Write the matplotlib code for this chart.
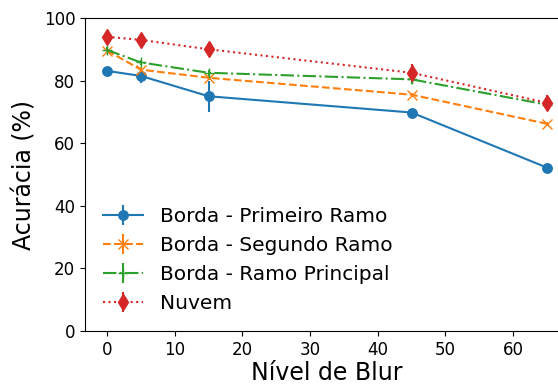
import matplotlib
matplotlib.use("Agg")
import matplotlib.pyplot as plt

blur = [0, 5, 15, 45, 65]
labels = ["Borda - Primeiro Ramo", "Borda - Segundo Ramo", "Borda - Ramo Principal", "Nuvem"]
primeiro = [83.1, 81.5, 75.0, 69.8, 52.2]
primeiro_err = [0.6, 2.2, 5.0, 0.6, 0.8]
segundo = [89.6, 83.5, 80.9, 75.5, 66.2]
segundo_err = [0.6, 0.8, 0.8, 0.6, 0.6]
principal = [89.8, 85.8, 82.5, 80.4, 72.3]
principal_err = [0.8, 0.8, 1.0, 1.5, 0.6]
nuvem = [94.0, 93.0, 90.0, 82.5, 72.9]
nuvem_err = [2.0, 1.8, 1.5, 2.8, 2.4]

fig = plt.figure(figsize=(5.58, 3.85), dpi=100)
ax = fig.add_axes([85/558, 54/385, 484/558, 313/385])

ax.errorbar(blur, primeiro, yerr=primeiro_err, color="#1f77b4", linestyle="-", marker="o",
            markersize=6.8, label=labels[0])
ax.errorbar(blur, segundo, yerr=segundo_err, color="#ff7f0e", linestyle="--", marker="x",
            markersize=7, label=labels[1])
ax.errorbar(blur, principal, yerr=principal_err, color="#2ca02c", linestyle="-.", marker="+",
            markersize=6.5, label=labels[2])
ax.errorbar(blur, nuvem, yerr=nuvem_err, color="#d62728", linestyle=":", marker="d",
            markersize=8, label=labels[3])

ax.set_xlim(-3.25, 68.25)
ax.set_ylim(0, 100)
ax.set_xticks([0, 10, 20, 30, 40, 50, 60])
ax.set_yticks([0, 20, 40, 60, 80, 100])
ax.tick_params(labelsize=12)
ax.set_xlabel("Nível de Blur", fontsize=17, labelpad=1.5)
ax.set_ylabel("Acurácia (%)", fontsize=17, labelpad=5)
ax.legend(loc="lower left", frameon=False, fontsize=14.5, bbox_to_anchor=(0.0, 0.0))

fig.savefig("out.png", dpi=100)
